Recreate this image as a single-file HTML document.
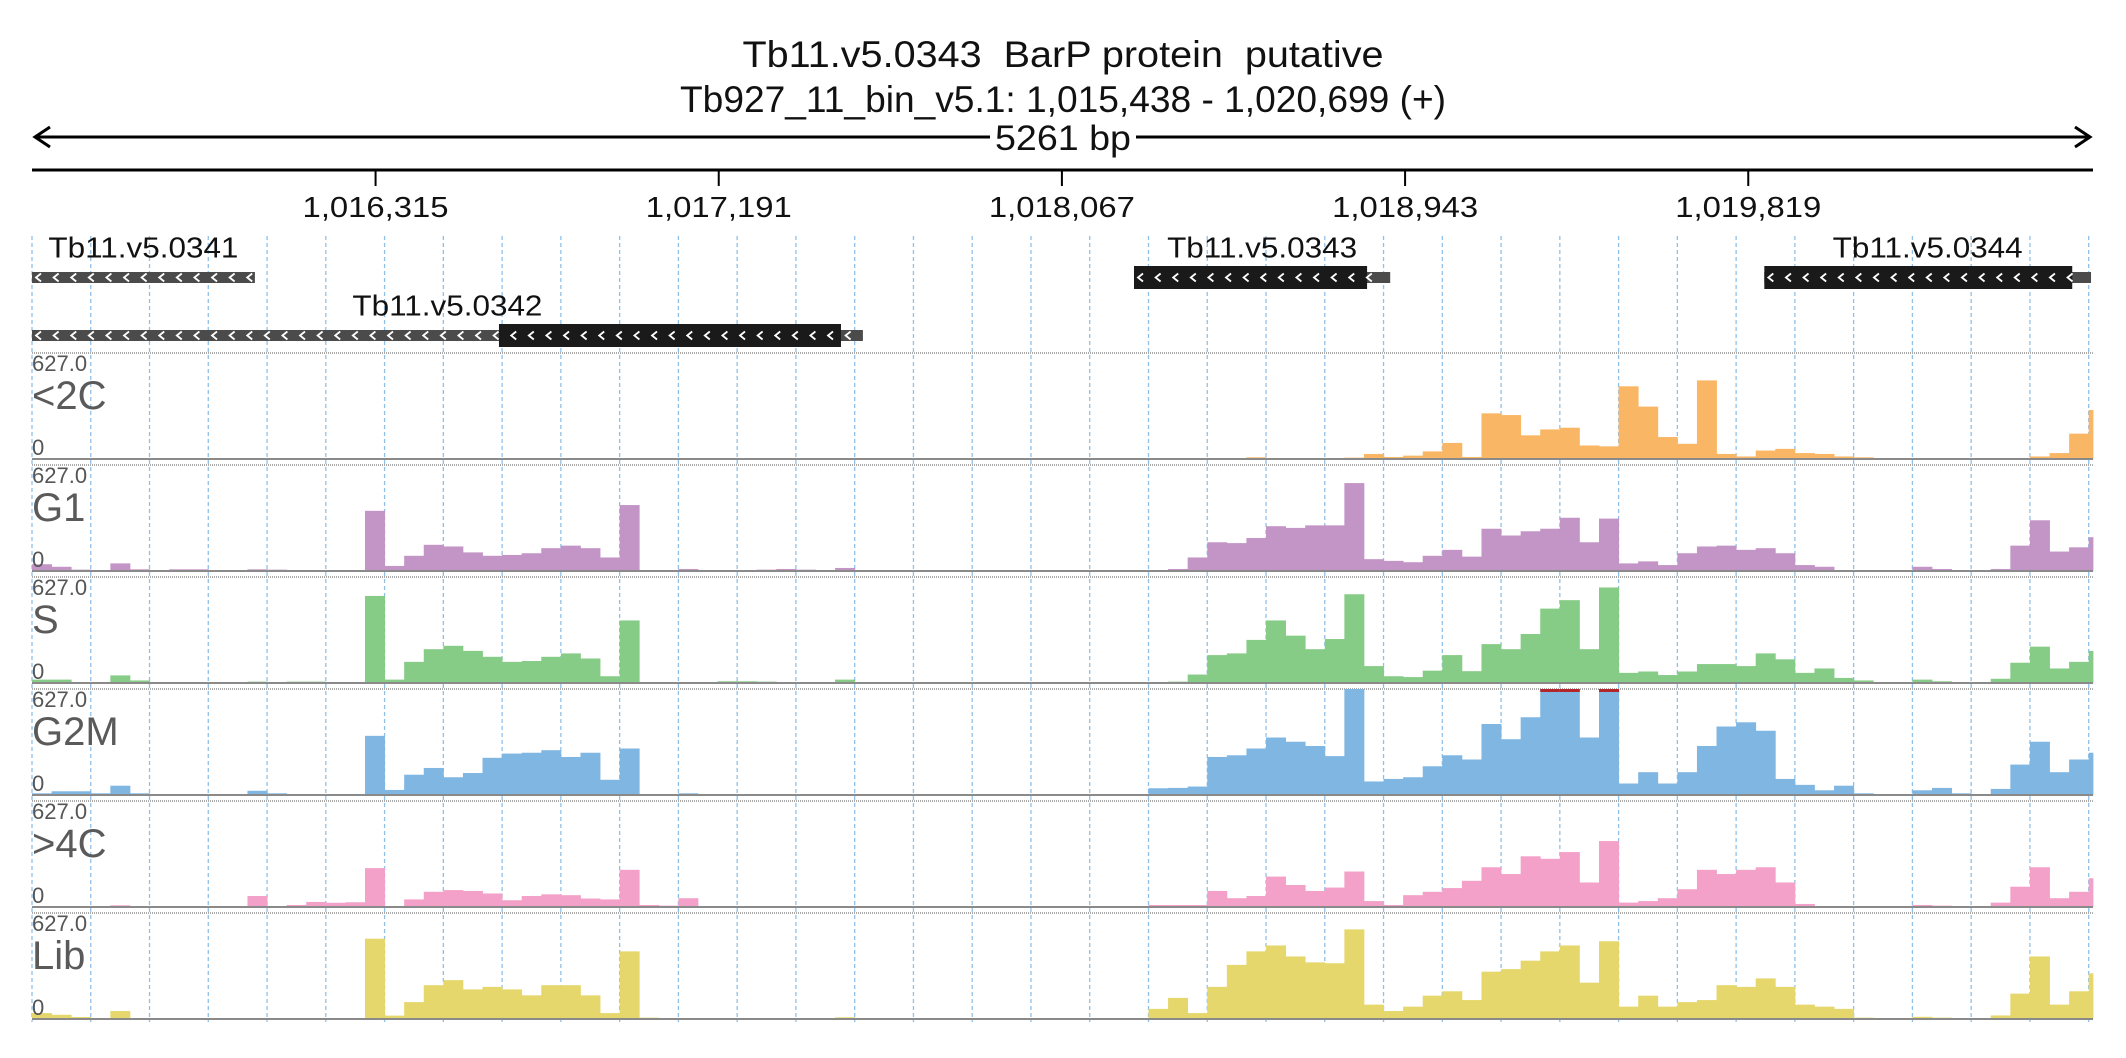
<!DOCTYPE html>
<html><head><meta charset="utf-8"><title>Tb11.v5.0343 coverage</title>
<style>
html,body{margin:0;padding:0;background:#fff;}
svg{display:block;font-family:"Liberation Sans",sans-serif;}
</style></head>
<body>
<svg id="chart" width="2126" height="1058" viewBox="0 0 2126 1058" xmlns="http://www.w3.org/2000/svg">
<g id="header">
<text x="1063" y="67" font-size="37" text-anchor="middle" fill="#111" xml:space="preserve" textLength="641" lengthAdjust="spacingAndGlyphs">Tb11.v5.0343  BarP protein  putative</text>
<text x="1063" y="112" font-size="37" text-anchor="middle" fill="#111" textLength="766" lengthAdjust="spacingAndGlyphs">Tb927_11_bin_v5.1: 1,015,438 - 1,020,699 (+)</text>
</g>
<g id="span"></g>
<g id="axis"></g>
<g id="grid"></g>
<g id="genes"></g>
<g id="tracks"></g>
</svg>
<script>
// ---- data ----
const startBp = 1015438;
const endBp = 1020699;
const binSize = 50;
const tickValues = [1016315, 1017191, 1018067, 1018943, 1019819];
const tickLabels = ["1,016,315", "1,017,191", "1,018,067", "1,018,943", "1,019,819"];
const trackNames = ["<2C", "G1", "S", "G2M", ">4C", "Lib"];
const trackColors = ["#f9b766", "#c394c6", "#86cb86", "#80b6e2", "#f3a1c9", "#e5d76c"];
const trackMax = 627;
const geneNames = ["Tb11.v5.0341", "Tb11.v5.0342", "Tb11.v5.0343", "Tb11.v5.0344"];
const geneStarts = [1015438, 1015438, 1018251, 1019860];
const geneEnds = [1016007, 1017559, 1018905, 1020694];
const cdsStarts = [null, 1016630, 1018251, 1019860];
const cdsEnds = [null, 1017503, 1018846, 1020646];
const geneRows = [0, 1, 0, 0];

const covLt2C = [0,0,0,0,0,0,0,0,0,0, 0,0,0,0,0,0,0,0,0,0, 0,0,0,0,0,0,0,0,0,0, 0,0,0,0,0,0,0,0,0,0, 0,0,0,0,0,0,0,0,0,0, 0,0,0,0,0,0,0,0,0,0, 0,0,10,0,0,0,0,8,30,12, 20,45,95,12,270,260,140,175,185,80, 75,430,310,130,90,465,30,15,50,60, 35,30,15,10,0,0,0,6,0,0, 0,0,15,35,150,290];
const covG1 = [40,25,8,5,45,10,5,10,10,3, 3,10,8,5,5,3,3,356,30,90, 155,145,110,90,95,105,135,150,135,80, 390,5,5,12,5,3,3,8,12,8, 3,18,3,0,0,0,0,0,0,0, 0,0,0,
 0,0,0,0,3,12,80,170,165,195, 265,255,270,270,520,70,60,52,90,125, 85,250,210,235,250,315,170,310,45,57, 35,105,145,150,125,135,105,35,25,5, 5,5,0,25,12,0,5,12,150,300, 115,140,200];
const covS = [20,20,5,3,45,15,0,0,0,0, 0,8,3,8,8,0,0,515,20,125, 200,220,190,155,125,130,155,175,145,40, 370,5,0,5,3,10,10,8,5,0, 0,20,0,0,0,0,0,0,0,0, 0,0,0,
 0,0,0,0,5,8,50,165,175,255, 370,280,200,260,525,100,40,35,73,165, 70,230,200,290,440,490,200,565,60,68, 47,68,112,112,100,175,140,60,86,30, 15,3,0,20,10,3,3,25,120,215, 86,125,190];
const covG2M = [10,22,22,10,55,10,0,0,0,0, 0,25,10,5,5,5,5,350,30,120, 160,105,130,220,245,250,265,225,250,90, 275,5,0,10,0,0,0,0,0,0, 0,0,0,0,0,0,0,0,0,0, 0,0,0,
 0,0,0,0,40,42,50,225,235,275, 340,315,290,230,627,80,95,105,170,235, 210,420,330,460,640,640,340,640,68,135, 68,135,290,405,430,380,95,60,28,55, 10,0,0,28,42,10,0,36,180,315, 135,210,250];
const covGt4C = [5,5,5,3,10,0,0,0,0,0, 0,65,0,12,30,25,28,230,5,45, 90,100,95,80,40,65,75,70,50,45, 220,12,8,52,0,0,0,0,0,0, 0,0,0,0,0,0,0,0,0,0, 0,0,0,
 0,0,0,0,12,12,12,95,52,65, 180,130,95,115,210,35,12,70,90,112, 155,235,195,300,285,325,145,390,26,35, 52,105,220,195,220,235,145,18,0,0, 0,0,0,12,8,0,0,26,120,235, 52,90,170];
const covLib = [35,25,12,0,47,5,0,0,5,3, 0,0,0,0,0,0,0,475,20,100, 200,230,175,190,175,140,200,200,140,35, 400,8,0,0,0,0,0,5,5,0, 0,10,0,0,0,0,0,0,0,0, 0,0,0,
 0,0,0,0,60,125,35,190,320,400, 435,370,335,330,530,85,47,73,138,164, 112,280,295,345,400,435,215,460,73,138, 73,100,112,200,190,240,190,85,73,60, 8,0,0,13,8,0,0,21,150,370, 85,164,270];
const trackData = [covLt2C, covG1, covS, covG2M, covGt4C, covLib];

// ---- layout ----
const NS = "http://www.w3.org/2000/svg";
const X0 = 32, X1 = 2093;
const trackTop0 = 353, trackStep = 112, trackH = 106;
function xScale(bp){ return X0 + (bp - startBp) / (endBp - startBp) * (X1 - X0); }
function yScale(v, base){ return base - Math.min(v, trackMax) / trackMax * trackH; }
function mk(tag, attrs, parent){
  const e = document.createElementNS(NS, tag);
  for (const k in attrs) e.setAttribute(k, attrs[k]);
  parent.appendChild(e);
  return e;
}

// span arrow
const span = document.getElementById('span');
const sl = mk('line', {x1: X0+4, y1: 137, x2: X1-4, y2: 137, stroke: '#000', 'stroke-width': 3}, span);


const ah1 = mk('polyline', {points: `${X0+18},127 ${X0+3},137 ${X0+18},147`, fill: 'none', stroke: '#000', 'stroke-width': 3}, span);


const ah2 = mk('polyline', {points: `${X1-18},127 ${X1-3},137 ${X1-18},147`, fill: 'none', stroke: '#000', 'stroke-width': 3}, span);


mk('rect', {x: 990, y: 120, width: 146, height: 34, fill: '#fff'}, span);
const st = mk('text', {x: 1063, y: 150, 'font-size': 35, 'text-anchor': 'middle', fill: '#111', textLength: 136, lengthAdjust: 'spacingAndGlyphs'}, span);
st.textContent = (endBp - startBp) + ' bp';



// axis
const axis = document.getElementById('axis');
const al = mk('line', {x1: X0, y1: 170, x2: X1, y2: 170, stroke: '#000', 'stroke-width': 3}, axis);


tickValues.forEach((v, i) => {
  const x = xScale(v);
  const t = mk('line', {x1: x, y1: 170, x2: x, y2: 186, stroke: '#000', 'stroke-width': 2}, axis);
  
  
  const l = mk('text', {x: x, y: 217, 'font-size': 29, 'text-anchor': 'middle', fill: '#111', textLength: 146, lengthAdjust: 'spacingAndGlyphs'}, axis);
  l.textContent = tickLabels[i];
  
  
});

// gridlines every 150 bp
const grid = document.getElementById('grid');
for (let bp = startBp; bp <= endBp + 1; bp += 150) {
  const x = xScale(bp);
  const g = mk('line', {x1: x, y1: 236, x2: x, y2: 1022, stroke: '#8fc0ea', 'stroke-width': 1.3, 'stroke-dasharray': '4,3'}, grid);
  
  
}

// genes
const genes = document.getElementById('genes');
const rowY = [277.5, 335.5];
geneNames.forEach((name, i) => {
  const cy = rowY[geneRows[i]];
  const gx0 = xScale(geneStarts[i]), gx1 = xScale(geneEnds[i]);
  const g = mk('g', {}, genes);
  
  
  mk('rect', {x: gx0, y: cy - 5.5, width: gx1 - gx0, height: 11, fill: '#4b4b4b'}, g);
  if (cdsStarts[i] !== null) {
    const cx0 = xScale(cdsStarts[i]), cx1 = xScale(cdsEnds[i]);
    mk('rect', {x: cx0, y: cy - 11.5, width: cx1 - cx0, height: 23, fill: '#1a1a1a'}, g);
  }
  const pat = mk('g', {}, g);
  for (let x = gx0 + 4; x < gx1 - 6; x += 17.6) {
    mk('polyline', {points: `${x+5},${cy-4} ${x},${cy} ${x+5},${cy+4}`, fill: 'none', stroke: '#fff', 'stroke-width': 1.8}, pat);
  }
  const lbl = mk('text', {x: (gx0 + gx1) / 2, y: cy - 20, 'font-size': 29, 'text-anchor': 'middle', fill: '#111', textLength: 190, lengthAdjust: 'spacingAndGlyphs'}, g);
  lbl.textContent = name;
  
  
});

// coverage tracks
const tracks = document.getElementById('tracks');
trackNames.forEach((name, ti) => {
  const top = trackTop0 + trackStep * ti;
  const base = top + trackH;
  const g = mk('g', {}, tracks);
  
  
  const tl = mk('line', {x1: X0, y1: top, x2: X1, y2: top, stroke: '#aaa', 'stroke-width': 2, 'stroke-dasharray': '1,1'}, g);
  
  
  const vals = trackData[ti];
  vals.forEach((v, bi) => {
    if (v <= 0) return;
    const bs = startBp + bi * binSize;
    const be = Math.min(bs + binSize, endBp);
    const x0 = xScale(bs), x1 = xScale(be);
    const y = yScale(v, base);
    const r = mk('rect', {x: x0, y: y, width: x1 - x0 + 0.4, height: base - y, fill: trackColors[ti]}, g);
    
    
    if (v > trackMax) {
      const c = mk('rect', {x: x0, y: top, width: x1 - x0 + 0.4, height: 3, fill: '#b3262b'}, g);
      
      
    }
  });
  const bl = mk('line', {x1: X0, y1: base, x2: X1, y2: base, stroke: '#8a8a8a', 'stroke-width': 2}, g);
  
  
  const mx = mk('text', {x: X0, y: top + 18, 'font-size': 22, fill: '#555'}, g);
  mx.textContent = trackMax.toFixed(1);
  
  
  const nm = mk('text', {x: X0, y: top + 56, 'font-size': 40, fill: '#5a5a5a'}, g);
  nm.textContent = name;
  
  
  const z = mk('text', {x: X0, y: base - 4, 'font-size': 22, fill: '#555'}, g);
  z.textContent = '0';
  
  
});
</script>
</body></html>
